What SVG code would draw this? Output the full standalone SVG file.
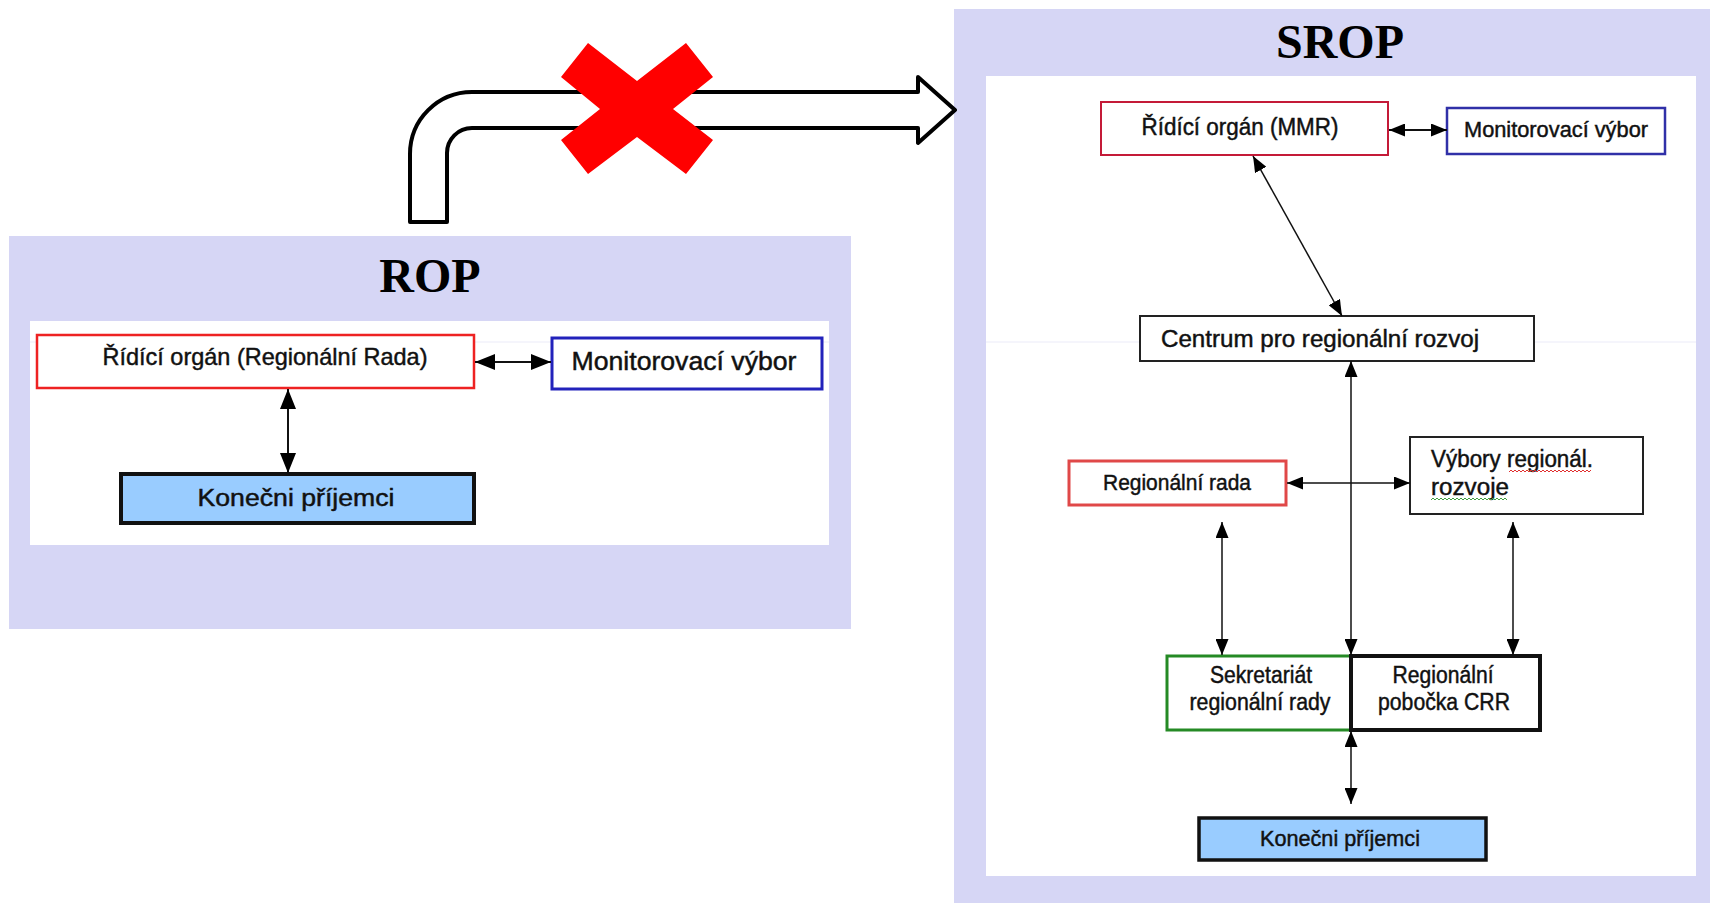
<svg xmlns="http://www.w3.org/2000/svg" width="1710" height="903" viewBox="0 0 1710 903">
<style>
.panel{fill:#d6d6f5}
.inner{fill:#ffffff}
.title{font-family:"Liberation Serif","Times New Roman",serif;font-weight:bold;font-size:48px;fill:#000;text-anchor:middle}
.t{font-family:"Liberation Sans",Arial,sans-serif;fill:#111;stroke:#111;stroke-width:0.45;text-anchor:middle}
.ts{font-family:"Liberation Sans",Arial,sans-serif;fill:#111;stroke:#111;stroke-width:0.45}
.box{fill:#ffffff}
.conn{stroke:#111;fill:none}
.guide{stroke:#ebebf8;stroke-width:1}
</style>
<defs>
<marker id="ahBig" markerUnits="userSpaceOnUse" viewBox="0 0 20 16" refX="20" refY="8" markerWidth="20" markerHeight="16" orient="auto-start-reverse">
<path d="M0,0 L20,8 L0,16 z" fill="#000"/>
</marker>
<marker id="ah" markerUnits="userSpaceOnUse" viewBox="0 0 16 13" refX="16" refY="6.5" markerWidth="16" markerHeight="13" orient="auto-start-reverse">
<path d="M0,0 L16,6.5 L0,13 z" fill="#000"/>
</marker>
</defs>

<!-- panels -->
<g id="rop-panel">
<rect class="panel" x="9" y="236" width="842" height="393"/>
<rect class="inner" x="30" y="321" width="799" height="224"/>
<line class="guide" x1="30" y1="342" x2="829" y2="342"/>
<text class="title" x="430" y="292">ROP</text>
</g>
<g id="srop-panel">
<rect class="panel" x="954" y="9" width="756" height="894"/>
<rect class="inner" x="986" y="76" width="710" height="800"/>
<line class="guide" x1="986" y1="342" x2="1696" y2="342"/>
<text class="title" x="1340" y="58">SROP</text>
</g>

<!-- bent arrow and cross -->
<g id="transfer-arrow">
<path d="M410,222 L410,154 A62,62 0 0 1 472,92 L918,92 L918,77 L955,110 L918,143 L918,128 L472,128 A25,25 0 0 0 447,153 L447,222 Z" fill="#fff" stroke="#000" stroke-width="4" stroke-linejoin="round"/>
</g>
<g id="red-cross">
<polygon points="588,43 637,81 686,43 713,77 673,109 713,140 686,174 637,137 588,174 561,140 600,109 561,77" fill="#ff0000"/>
</g>

<!-- ROP nodes -->
<g id="rop-ridici">
<rect class="box" x="37" y="335" width="437" height="53" stroke="#ee2222" stroke-width="2.5"/>
<text class="t" x="265" y="365" font-size="24" textLength="325" lengthAdjust="spacingAndGlyphs">Řídící orgán (Regionální Rada)</text>
</g>
<g id="rop-monitor">
<rect class="box" x="552" y="338" width="270" height="51" stroke="#2222bb" stroke-width="3"/>
<text class="t" x="684" y="370" font-size="25" textLength="225" lengthAdjust="spacingAndGlyphs">Monitorovací výbor</text>
</g>
<g id="rop-prijemci">
<rect x="121" y="474" width="353" height="49" fill="#99ccff" stroke="#111" stroke-width="4"/>
<text class="t" x="296" y="506" font-size="23" textLength="197" lengthAdjust="spacingAndGlyphs">Konečni příjemci</text>
</g>

<!-- SROP nodes -->
<g id="srop-ridici">
<rect class="box" x="1101" y="102" width="287" height="53" stroke="#c41a38" stroke-width="2"/>
<text class="t" x="1240" y="135" font-size="23" textLength="197" lengthAdjust="spacingAndGlyphs">Řídící orgán (MMR)</text>
</g>
<g id="srop-monitor">
<rect class="box" x="1447" y="108" width="218" height="46" stroke="#3030a8" stroke-width="2.5"/>
<text class="t" x="1556" y="137" font-size="22" textLength="184" lengthAdjust="spacingAndGlyphs">Monitorovací výbor</text>
</g>
<g id="srop-centrum">
<rect class="box" x="1140" y="316" width="394" height="45" stroke="#222" stroke-width="2"/>
<text class="t" x="1320" y="347" font-size="23" textLength="318" lengthAdjust="spacingAndGlyphs">Centrum pro regionální rozvoj</text>
</g>
<g id="srop-rada">
<rect class="box" x="1069" y="461" width="217" height="44" stroke="#e04848" stroke-width="3"/>
<text class="t" x="1177" y="490" font-size="22" textLength="148" lengthAdjust="spacingAndGlyphs">Regionální rada</text>
</g>
<g id="srop-vybory">
<rect class="box" x="1410" y="437" width="233" height="77" stroke="#222" stroke-width="2"/>
<text class="ts" x="1431" y="467" font-size="23" textLength="162" lengthAdjust="spacingAndGlyphs">Výbory regionál.</text>
<text class="ts" x="1431" y="495" font-size="23" textLength="78" lengthAdjust="spacingAndGlyphs">rozvoje</text>
<path d="M1509,472 l2,-2 l2,2 l2,-2 l2,2 l2,-2 l2,2 l2,-2 l2,2 l2,-2 l2,2 l2,-2 l2,2 l2,-2 l2,2 l2,-2 l2,2 l2,-2 l2,2 l2,-2 l2,2 l2,-2 l2,2 l2,-2 l2,2 l2,-2 l2,2 l2,-2 l2,2 l2,-2 l2,2 l2,-2 l2,2 l2,-2 l2,2 l2,-2 l2,2 l2,-2 l2,2 l2,-2 l2,2 l2,-2" fill="none" stroke="#e03030" stroke-width="1"/>
<path d="M1431,500 l2,-2 l2,2 l2,-2 l2,2 l2,-2 l2,2 l2,-2 l2,2 l2,-2 l2,2 l2,-2 l2,2 l2,-2 l2,2 l2,-2 l2,2 l2,-2 l2,2 l2,-2 l2,2 l2,-2 l2,2 l2,-2 l2,2 l2,-2 l2,2 l2,-2 l2,2 l2,-2 l2,2 l2,-2 l2,2 l2,-2 l2,2 l2,-2 l2,2 l2,-2 l2,2" fill="none" stroke="#40a040" stroke-width="1"/>
</g>
<g id="srop-sekretariat">
<rect class="box" x="1167" y="656" width="184" height="74" stroke="#258a25" stroke-width="3"/>
<text class="t" x="1261" y="683" font-size="23" textLength="102" lengthAdjust="spacingAndGlyphs">Sekretariát</text>
<text class="t" x="1260" y="710" font-size="23" textLength="141" lengthAdjust="spacingAndGlyphs">regionální rady</text>
</g>
<g id="srop-pobocka">
<rect class="box" x="1351" y="656" width="189" height="74" stroke="#111" stroke-width="4"/>
<text class="t" x="1443" y="683" font-size="23" textLength="101" lengthAdjust="spacingAndGlyphs">Regionální</text>
<text class="t" x="1444" y="710" font-size="23" textLength="132" lengthAdjust="spacingAndGlyphs">pobočka CRR</text>
</g>
<g id="srop-prijemci">
<rect x="1199" y="818" width="287" height="42" fill="#99ccff" stroke="#111" stroke-width="3.5"/>
<text class="t" x="1340" y="846" font-size="22" textLength="160" lengthAdjust="spacingAndGlyphs">Konečni příjemci</text>
</g>

<!-- connectors -->
<g id="connectors">
<line class="conn" x1="475" y1="362" x2="551" y2="362" stroke-width="2" marker-start="url(#ahBig)" marker-end="url(#ahBig)"/>
<line class="conn" x1="288" y1="389" x2="288" y2="473" stroke-width="2" marker-start="url(#ahBig)" marker-end="url(#ahBig)"/>

<line class="conn" x1="1389" y1="130" x2="1447" y2="130" stroke-width="2" marker-start="url(#ah)" marker-end="url(#ah)"/>
<line class="conn" x1="1253" y1="156" x2="1342" y2="316" stroke-width="1.5" marker-start="url(#ah)" marker-end="url(#ah)"/>
<line class="conn" x1="1351" y1="361" x2="1351" y2="655" stroke-width="1.5" marker-start="url(#ah)" marker-end="url(#ah)"/>
<line class="conn" x1="1287" y1="483" x2="1410" y2="483" stroke-width="1.5" marker-start="url(#ah)" marker-end="url(#ah)"/>
<line class="conn" x1="1222" y1="522" x2="1222" y2="655" stroke-width="1.5" marker-start="url(#ah)" marker-end="url(#ah)"/>
<line class="conn" x1="1513" y1="522" x2="1513" y2="655" stroke-width="1.5" marker-start="url(#ah)" marker-end="url(#ah)"/>
<line class="conn" x1="1351" y1="731" x2="1351" y2="804" stroke-width="1.5" marker-start="url(#ah)" marker-end="url(#ah)"/>
</g>
</svg>
